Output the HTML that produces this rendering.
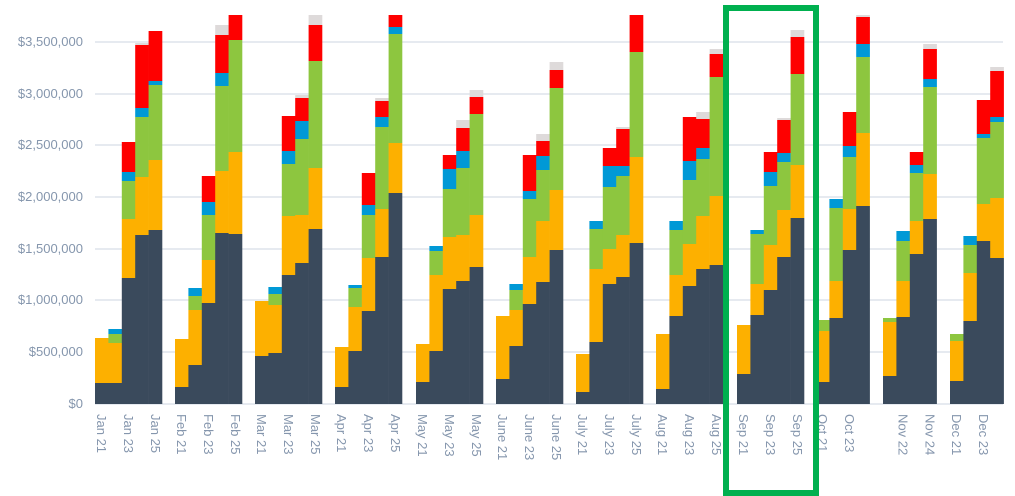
<!DOCTYPE html>
<html><head><meta charset="utf-8"><style>
html,body{margin:0;padding:0;background:#fff;}
svg{display:block;font-family:"Liberation Sans",sans-serif;}
.yl{fill:#8596ad;font-size:13px;text-anchor:end;}
.xl{fill:#8596ad;font-size:13px;}
</style></head><body>
<svg id="c" width="1015" height="496" viewBox="0 0 1015 496">
<g stroke="#e6eaf0" stroke-width="2">
<line x1="95" x2="1003" y1="404" y2="404"/>
<line x1="95" x2="1003" y1="352" y2="352"/>
<line x1="95" x2="1003" y1="300" y2="300"/>
<line x1="95" x2="1003" y1="249" y2="249"/>
<line x1="95" x2="1003" y1="197" y2="197"/>
<line x1="95" x2="1003" y1="145" y2="145"/>
<line x1="95" x2="1003" y1="94" y2="94"/>
<line x1="95" x2="1003" y1="42" y2="42"/>
</g>
<g class="yl">
<text x="83" y="408">$0</text>
<text x="83" y="356">$500,000</text>
<text x="83" y="304">$1,000,000</text>
<text x="83" y="253">$1,500,000</text>
<text x="83" y="201">$2,000,000</text>
<text x="83" y="149">$2,500,000</text>
<text x="83" y="98">$3,000,000</text>
<text x="83" y="46">$3,500,000</text>
</g>
<g id="bars"></g>
<g class="xl" id="xl">
<text transform="translate(101.7,414) rotate(90)" dominant-baseline="central">Jan 21</text>
<text transform="translate(128.5,414) rotate(90)" dominant-baseline="central">Jan 23</text>
<text transform="translate(155.3,414) rotate(90)" dominant-baseline="central">Jan 25</text>
<text transform="translate(181.7,414) rotate(90)" dominant-baseline="central">Feb 21</text>
<text transform="translate(208.5,414) rotate(90)" dominant-baseline="central">Feb 23</text>
<text transform="translate(235.3,414) rotate(90)" dominant-baseline="central">Feb 25</text>
<text transform="translate(261.7,414) rotate(90)" dominant-baseline="central">Mar 21</text>
<text transform="translate(288.5,414) rotate(90)" dominant-baseline="central">Mar 23</text>
<text transform="translate(315.3,414) rotate(90)" dominant-baseline="central">Mar 25</text>
<text transform="translate(341.7,414) rotate(90)" dominant-baseline="central">Apr 21</text>
<text transform="translate(368.5,414) rotate(90)" dominant-baseline="central">Apr 23</text>
<text transform="translate(395.3,414) rotate(90)" dominant-baseline="central">Apr 25</text>
<text transform="translate(422.7,414) rotate(90)" dominant-baseline="central">May 21</text>
<text transform="translate(449.5,414) rotate(90)" dominant-baseline="central">May 23</text>
<text transform="translate(476.3,414) rotate(90)" dominant-baseline="central">May 25</text>
<text transform="translate(502.7,414) rotate(90)" dominant-baseline="central">June 21</text>
<text transform="translate(529.5,414) rotate(90)" dominant-baseline="central">June 23</text>
<text transform="translate(556.3,414) rotate(90)" dominant-baseline="central">June 25</text>
<text transform="translate(582.7,414) rotate(90)" dominant-baseline="central">July 21</text>
<text transform="translate(609.5,414) rotate(90)" dominant-baseline="central">July 23</text>
<text transform="translate(636.3,414) rotate(90)" dominant-baseline="central">July 25</text>
<text transform="translate(662.7,414) rotate(90)" dominant-baseline="central">Aug 21</text>
<text transform="translate(689.5,414) rotate(90)" dominant-baseline="central">Aug 23</text>
<text transform="translate(716.3,414) rotate(90)" dominant-baseline="central">Aug 25</text>
<text transform="translate(743.7,414) rotate(90)" dominant-baseline="central">Sep 21</text>
<text transform="translate(770.5,414) rotate(90)" dominant-baseline="central">Sep 23</text>
<text transform="translate(797.3,414) rotate(90)" dominant-baseline="central">Sep 25</text>
<text transform="translate(822.7,414) rotate(90)" dominant-baseline="central">Oct 21</text>
<text transform="translate(849.5,414) rotate(90)" dominant-baseline="central">Oct 23</text>
<text transform="translate(903.1,414) rotate(90)" dominant-baseline="central">Nov 22</text>
<text transform="translate(929.9,414) rotate(90)" dominant-baseline="central">Nov 24</text>
<text transform="translate(956.7,414) rotate(90)" dominant-baseline="central">Dec 21</text>
<text transform="translate(983.5,414) rotate(90)" dominant-baseline="central">Dec 23</text>
</g>
<rect x="726" y="8" width="90" height="485" fill="none" stroke="#00b04f" stroke-width="6"/>
</svg>
<script>
var starts=[95,175,255,335,416,496,576,656,737,816,883,950];
var cols=["#3a4a5c","#fdb000","#8dc63f","#0099d6","#fe0000","#dedada"];
var D=[
[[383,338],[383,343,334,329],[278,219,181,172,142],[235,177,117,108,45,43],[230,160,85,81,31]],
[[387,339],[365,310,296,288],[303,260,215,202,176],[233,171,86,73,35,25],[234,152,40,0,15]],
[[356,301],[353,305,294,287],[275,216,164,151,116],[263,215,139,121,98,95],[229,168,61,0,25,15]],
[[387,347],[351,307,288,285],[311,258,215,205,173],[257,209,127,117,101,98],[193,143,34,27,15]],
[[382,344],[351,275,251,246],[289,237,189,169,155],[281,235,168,151,128,120],[267,215,114,0,97,90]],
[[379,316],[346,310,290,284],[304,257,199,191,155],[282,221,170,156,141,134],[250,190,88,0,70,62]],
[[392,354],[342,269,229,221],[284,249,187,166,148],[277,235,176,166,129,127],[243,157,52,0,15]],
[[389,334],[316,275,230,221],[286,244,180,161,117],[269,216,159,148,119,112],[265,196,77,0,54,49]],
[[374,325],[315,284,234,230],[290,245,186,172,152],[257,210,162,153,120,118],[218,165,74,0,37,30]],
[[382,331,320],[318,281,208,199],[250,209,157,146,112],[206,133,57,44,17,15]],
[[376,322,318],[317,281,241,231],[254,221,173,165,152],[219,174,87,79,49,44]],
[[381,341,334],[321,273,245,236],[241,204,138,134,100],[258,198,122,117,71,67]]
];
var g=document.getElementById("bars"),s="",w=13.4;
D.forEach(function(gr,gi){gr.forEach(function(b,bi){
 var x=starts[gi]+bi*w,prev=404;
 b.forEach(function(t,li){ if(!t)return; var h=prev-t; if(h>0)s+='<rect x="'+x.toFixed(1)+'" y="'+t+'" width="'+(w+0.3).toFixed(1)+'" height="'+h+'" fill="'+cols[li]+'"/>'; prev=t;});
});});
g.innerHTML=s;
</script>
</body></html>
